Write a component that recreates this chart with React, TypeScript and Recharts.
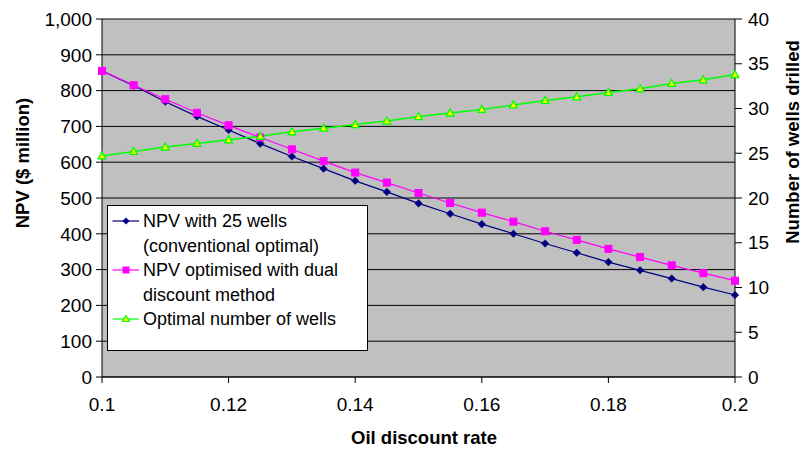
import { LineChart, Line, XAxis, YAxis, CartesianGrid, Legend } from 'recharts'

const FONT = '"Liberation Sans", Arial, Helvetica, sans-serif'

// discount rates on the x axis
const RATES = [
  0.1, 0.105, 0.11, 0.115, 0.12, 0.125, 0.13, 0.135, 0.14, 0.145, 0.15,
  0.155, 0.16, 0.165, 0.17, 0.175, 0.18, 0.185, 0.19, 0.195, 0.2,
]
// NPV ($ million), fixed 25 wells
const NPV_25_WELLS = [
  855, 814, 769, 728, 690, 652, 616, 582, 548, 517, 485,
  456, 427, 400, 373, 347, 321, 298, 275, 251, 229,
]
// NPV ($ million), dual discount optimised
const NPV_DUAL = [
  855, 815, 776, 738, 703, 669, 636, 603, 571, 543, 514,
  486, 459, 434, 407, 383, 358, 335, 312, 290, 269,
]
// optimal number of wells (right axis)
const OPTIMAL_WELLS = [
  24.7, 25.2, 25.7, 26.1, 26.5, 26.9, 27.4, 27.8, 28.2, 28.6, 29.1,
  29.5, 29.9, 30.4, 30.9, 31.3, 31.8, 32.2, 32.8, 33.2, 33.8,
]

const X_TICKS = [0.1, 0.12, 0.14, 0.16, 0.18, 0.2]
const NPV_TICKS = [0, 100, 200, 300, 400, 500, 600, 700, 800, 900, 1000]
const WELL_TICKS = [0, 5, 10, 15, 20, 25, 30, 35, 40]

const NAVY = '#000080'
const MAGENTA = '#FF00FF'
const GREEN = '#00FF00'
const YELLOW = '#FFFF00'

const chartData = RATES.map((rate, i) => ({
  rate,
  npv25: NPV_25_WELLS[i],
  npvDual: NPV_DUAL[i],
  wells: OPTIMAL_WELLS[i],
}))

function diamond(cx: number, cy: number, r: number) {
  return `M${cx},${cy - r}L${cx + r},${cy}L${cx},${cy + r}L${cx - r},${cy}Z`
}

const DiamondDot = (p: any) => {
  const { cx, cy, index } = p
  if (cx == null || cy == null) return <g key={`d${index}`} />
  return <path key={`d${index}`} d={diamond(cx, cy, 3.8)} fill={NAVY} stroke={NAVY} strokeWidth={0.5} />
}

const SquareDot = (p: any) => {
  const { cx, cy, index } = p
  if (cx == null || cy == null) return <g key={`s${index}`} />
  return <rect key={`s${index}`} x={cx - 3.5} y={cy - 3.5} width={7} height={7} fill={MAGENTA} stroke={MAGENTA} />
}

const TriangleDot = (p: any) => {
  const { cx, cy, index } = p
  if (cx == null || cy == null) return <g key={`t${index}`} />
  return (
    <path
      key={`t${index}`}
      d={`M${cx},${cy - 4}L${cx + 3.8},${cy + 3}L${cx - 3.8},${cy + 3}Z`}
      fill={YELLOW}
      stroke={GREEN}
      strokeWidth={1.3}
    />
  )
}

const LEGEND_ITEMS = [
  { key: 'npv25', lines: ['NPV with 25 wells', '(conventional optimal)'], color: NAVY, marker: 'diamond' },
  { key: 'npvDual', lines: ['NPV optimised with dual', 'discount method'], color: MAGENTA, marker: 'square' },
  { key: 'wells', lines: ['Optimal number of wells'], color: GREEN, marker: 'triangle' },
]

function LegendMarker({ color, marker }: { color: string; marker: string }) {
  const cy = 12
  return (
    <svg width={31} height={24} style={{ flex: '0 0 31px', display: 'block' }}>
      <line x1={0.5} y1={cy} x2={27} y2={cy} stroke={color} strokeWidth={1.2} />
      {marker === 'diamond' && <path d={diamond(14, cy, 3.5)} fill={NAVY} />}
      {marker === 'square' && <rect x={10.5} y={cy - 3.5} width={7} height={7} fill={MAGENTA} />}
      {marker === 'triangle' && (
        <path d={`M14,${cy - 3.5}L17.5,${cy + 2.5}L10.5,${cy + 2.5}Z`} fill={YELLOW} stroke={GREEN} strokeWidth={1.2} />
      )}
    </svg>
  )
}

function LegendBox() {
  return (
    <div
      style={{
        width: 261,
        height: 146,
        boxSizing: 'border-box',
        border: '1px solid #000',
        background: '#fff',
        padding: '3px 0 0 4px',
        fontFamily: FONT,
        fontSize: 18,
        lineHeight: '24.5px',
        color: '#000',
        textAlign: 'left',
      }}
    >
      {LEGEND_ITEMS.map((item) => (
        <div key={item.key} style={{ display: 'flex', alignItems: 'flex-start' }}>
          <LegendMarker color={item.color} marker={item.marker} />
          <div>
            {item.lines.map((l) => (
              <div key={l} style={{ whiteSpace: 'nowrap' }}>{l}</div>
            ))}
          </div>
        </div>
      ))}
    </div>
  )
}

const tickStyle = { fontSize: 19, fill: '#000', fontFamily: FONT }

export default function App() {
  return (
    <div style={{ position: 'absolute', left: 0, top: 0, width: 803, height: 450, background: '#fff' }}>
      <LineChart
        width={803}
        height={450}
        data={chartData}
        margin={{ top: 19, right: 0, bottom: 0, left: 0 }}
        style={{ fontFamily: FONT }}
      >
        <CartesianGrid yAxisId="left" vertical={false} stroke="#000" fill="#C0C0C0" fillOpacity={1} />
        <XAxis
          dataKey="rate"
          type="number"
          domain={[0.1, 0.2]}
          ticks={X_TICKS}
          tickFormatter={(v: number) => String(v)}
          height={73}
          tick={tickStyle}
          tickSize={6}
          tickMargin={15}
          axisLine={{ stroke: '#000' }}
          tickLine={{ stroke: '#000' }}
          label={{
            content: () => (
              <text x={424} y={444} textAnchor="middle" fontFamily={FONT} fontWeight="bold" fontSize={18.5} fill="#000">
                Oil discount rate
              </text>
            ),
          }}
        />
        <YAxis
          yAxisId="left"
          domain={[0, 1000]}
          ticks={NPV_TICKS}
          tickFormatter={(v: number) => v.toLocaleString('en-US')}
          width={102}
          tick={tickStyle}
          tickSize={6}
          tickMargin={4}
          axisLine={{ stroke: '#000' }}
          tickLine={{ stroke: '#000' }}
          label={{
            content: () => (
              <text
                x={29}
                y={163}
                transform="rotate(-90, 29, 163)"
                textAnchor="middle"
                fontFamily={FONT}
                fontWeight="bold"
                fontSize={18.5}
                fill="#000"
              >
                NPV ($ million)
              </text>
            ),
          }}
        />
        <YAxis
          yAxisId="right"
          orientation="right"
          domain={[0, 40]}
          ticks={WELL_TICKS}
          width={68}
          tick={tickStyle}
          tickSize={7}
          tickMargin={6}
          axisLine={{ stroke: '#000' }}
          tickLine={{ stroke: '#000' }}
          label={{
            content: () => (
              <text
                x={799}
                y={142}
                transform="rotate(-90, 799, 142)"
                textAnchor="middle"
                fontFamily={FONT}
                fontWeight="bold"
                fontSize={18.5}
                fill="#000"
              >
                Number of wells drilled
              </text>
            ),
          }}
        />
        <Legend
          layout="vertical"
          align="center"
          verticalAlign="middle"
          content={() => <LegendBox />}
          wrapperStyle={{ position: 'absolute', left: 107, top: 205, width: 261, height: 146 }}
        />
        <Line
          yAxisId="left"
          dataKey="npv25"
          name="NPV with 25 wells (conventional optimal)"
          stroke={NAVY}
          strokeWidth={1.2}
          dot={DiamondDot}
          activeDot={false}
          isAnimationActive={false}
        />
        <Line
          yAxisId="left"
          dataKey="npvDual"
          name="NPV optimised with dual discount method"
          stroke={MAGENTA}
          strokeWidth={1.2}
          dot={SquareDot}
          activeDot={false}
          isAnimationActive={false}
        />
        <Line
          yAxisId="right"
          dataKey="wells"
          name="Optimal number of wells"
          stroke={GREEN}
          strokeWidth={1.5}
          dot={TriangleDot}
          activeDot={false}
          isAnimationActive={false}
        />
      </LineChart>
    </div>
  )
}
